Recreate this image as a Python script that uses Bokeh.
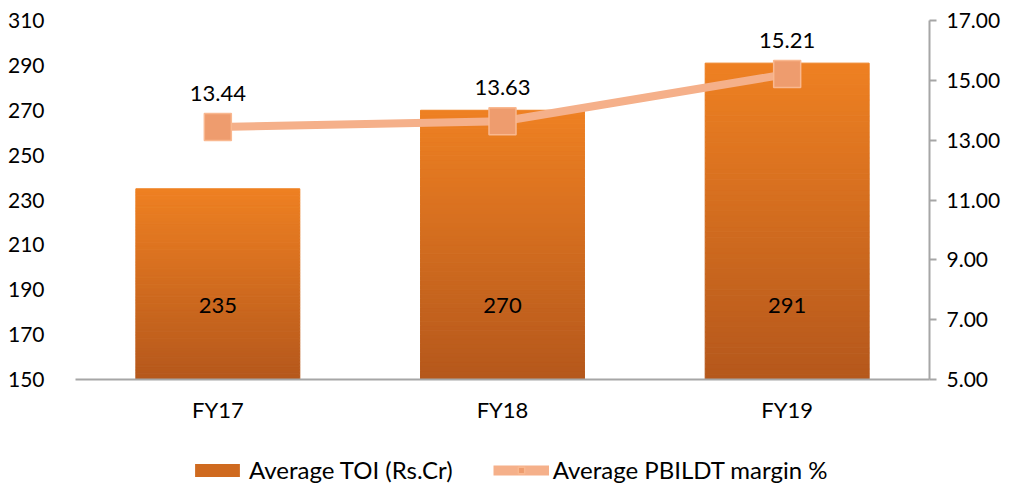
from bokeh.plotting import figure
from bokeh.layouts import column
from bokeh.models import (ColumnDataSource, Range1d, LinearAxis, FixedTicker,
                          NumeralTickFormatter, Legend, LegendItem, LabelSet, FactorRange)
from bokeh.core.properties import value
from bokeh.embed import file_html
from bokeh.resources import INLINE

categories = ["FY17", "FY18", "FY19"]
toi = [235, 270, 291]
margin = [13.44, 13.63, 15.21]
margin_labels = ["13.44", "13.63", "15.21"]
left_ticks = [150, 170, 190, 210, 230, 250, 270, 290, 310]
right_ticks = [5, 7, 9, 11, 13, 15, 17]
series_names = ["Average TOI (Rs.Cr)", "Average PBILDT margin %"]

FONT = "Lato"
TOP = (238, 128, 34)
BOT = (181, 88, 28)
LINE_C = "#F5B08A"
MK_FILL = "#EE9C6E"
MK_LINE = "#F9B890"

def mix(t):
    r = [int(round(BOT[k] + (TOP[k] - BOT[k]) * t)) for k in range(3)]
    return "#%02x%02x%02x" % tuple(r)

p = figure(x_range=FactorRange(*categories, range_padding=0), y_range=Range1d(150, 310),
           width=1019, height=436, output_backend="svg", toolbar_location=None,
           min_border_left=75, min_border_right=90, min_border_top=20, min_border_bottom=57)
p.outline_line_color = None
p.xgrid.grid_line_color = None
p.ygrid.grid_line_color = None
p.background_fill_color = "white"
p.border_fill_color = "white"

# gradient bars built from slices
N = 60
xs, bots, tops, cols = [], [], [], []
for c, v in zip(categories, toi):
    for i in range(N):
        xs.append(c)
        bots.append(150 + (v - 150) * i / N)
        tops.append(150 + (v - 150) * (i + 1) / N)
        cols.append(mix(i / (N - 1)))
bsrc = ColumnDataSource(dict(x=xs, bottom=bots, top=tops, color=cols))
bars = p.vbar(x="x", bottom="bottom", top="top", width=0.576, source=bsrc,
              fill_color="color", line_color="color", line_width=1)

# bar labels
lsrc = ColumnDataSource(dict(x=categories, y=[183, 183, 183], t=[str(v) for v in toi]))
p.add_layout(LabelSet(x="x", y="y", text="t", source=lsrc, text_align="center",
                      text_baseline="middle", text_font=value(FONT), text_font_size="22px",
                      text_color="black"))

# right axis + line
p.extra_y_ranges = {"pct": Range1d(5, 17)}
msrc = ColumnDataSource(dict(x=categories, y=margin, t=margin_labels))
p.line(x="x", y="y", source=msrc, y_range_name="pct", line_color=LINE_C, line_width=8)
p.scatter(x="x", y="y", source=msrc, y_range_name="pct", marker="square",
          size=27, fill_color=MK_FILL, line_color=MK_LINE, line_width=1.5)
p.add_layout(LabelSet(x="x", y="y", text="t", source=msrc, y_range_name="pct",
                      y_offset=34, text_align="center", text_baseline="middle",
                      text_font=value(FONT), text_font_size="22px", text_color="black"))

# axes
p.yaxis.ticker = FixedTicker(ticks=left_ticks)
p.yaxis.axis_line_color = None
p.yaxis.major_tick_line_color = None
p.yaxis.minor_tick_line_color = None
p.yaxis.major_label_standoff = 25
p.yaxis.major_label_text_font = FONT
p.yaxis.major_label_text_font_size = "21px"
p.yaxis.major_label_text_color = "black"

p.xaxis.axis_line_color = "#A6A6A6"
p.xaxis.axis_line_width = 2
p.xaxis.major_tick_line_color = None
p.xaxis.minor_tick_line_color = None
p.xaxis.major_label_standoff = 10
p.xaxis.major_label_text_font = FONT
p.xaxis.major_label_text_font_size = "22px"
p.xaxis.major_label_text_color = "black"

ra = LinearAxis(y_range_name="pct", ticker=FixedTicker(ticks=right_ticks),
                formatter=NumeralTickFormatter(format="0.00"))
ra.axis_line_color = "#A6A6A6"
ra.axis_line_width = 2
ra.major_tick_line_color = "#A6A6A6"
ra.major_tick_line_width = 2
ra.major_tick_out = 7
ra.major_tick_in = 0
ra.minor_tick_line_color = None
ra.major_label_standoff = 10
ra.major_label_text_font = FONT
ra.major_label_text_font_size = "21px"
ra.major_label_text_color = "black"
p.add_layout(ra, "right")

# legend strip (proxy renderers hold NaN so they draw nothing themselves)
lg = figure(width=1019, height=48, output_backend="svg", toolbar_location=None,
            x_range=Range1d(0, 1), y_range=Range1d(0, 1), x_axis_type=None, y_axis_type=None,
            min_border=0)
lg.outline_line_color = None
lg.xgrid.grid_line_color = None
lg.ygrid.grid_line_color = None
nan = float("nan")
r_bar = lg.vbar(x="x", top="y", width=0.1, source=ColumnDataSource(dict(x=[nan], y=[nan])),
                fill_color=mix(0.45), line_color=None)
r_ln = lg.line(x="x", y="y", source=ColumnDataSource(dict(x=[nan], y=[nan])),
               line_color=LINE_C, line_width=10)
r_mk = lg.scatter(x="x", y="y", source=ColumnDataSource(dict(x=[nan], y=[nan])),
                  marker="square", size=18, fill_color=MK_FILL, line_color=MK_LINE,
                  line_width=1.5)
legend = Legend(items=[LegendItem(label=series_names[0], renderers=[r_bar], index=0),
                       LegendItem(label=series_names[1], renderers=[r_ln, r_mk], index=0)],
                orientation="horizontal", location=(114, 0),
                label_text_font=FONT, label_text_font_size="24px", label_text_color="black",
                glyph_width=56, glyph_height=16, spacing=40, label_standoff=4,
                border_line_color=None, background_fill_alpha=0, padding=0, margin=0)
lg.add_layout(legend, "center")

open("out.html", "w").write(file_html(column(p, lg, spacing=0), INLINE))
